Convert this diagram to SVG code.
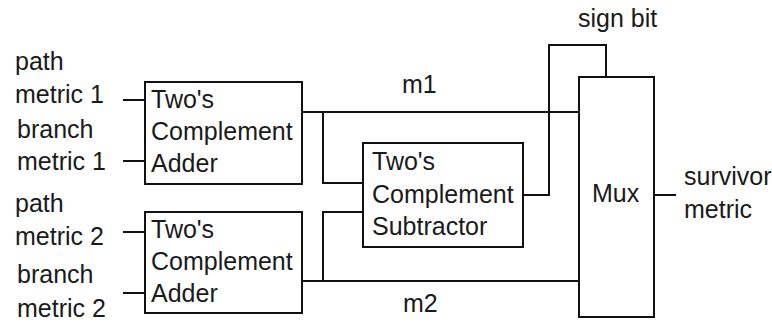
<svg xmlns="http://www.w3.org/2000/svg" width="772" height="326" viewBox="0 0 772 326">
<style>
.box{fill:none;stroke:#111;stroke-width:2}
.w{fill:none;stroke:#111;stroke-width:2}
text{font-family:"Liberation Sans",Arial,sans-serif;font-size:25px;fill:#1a1a1a}
</style>
<rect width="772" height="326" fill="#fff"/>
<g id="labels">
<text x="15" y="70">path</text>
<text x="15" y="103">metric 1</text>
<text x="17" y="138">branch</text>
<text x="17" y="170">metric 1</text>
<text x="15" y="212">path</text>
<text x="15" y="245">metric 2</text>
<text x="17" y="283">branch</text>
<text x="17" y="317">metric 2</text>
<text x="402" y="93">m1</text>
<text x="403" y="312">m2</text>
<text x="578" y="27">sign bit</text>
<text x="684" y="185">survivor</text>
<text x="684" y="218">metric</text>
</g>
<g id="adder1">
<rect class="box" x="145" y="82" width="157" height="102"/>
<text x="151" y="108">Two's</text>
<text x="151" y="140">Complement</text>
<text x="151" y="172">Adder</text>
</g>
<g id="adder2">
<rect class="box" x="145" y="212" width="157" height="101"/>
<text x="151" y="238">Two's</text>
<text x="151" y="270">Complement</text>
<text x="151" y="302">Adder</text>
</g>
<g id="subtractor">
<rect class="box" x="363" y="143" width="160" height="104"/>
<text x="372" y="170">Two's</text>
<text x="372" y="203">Complement</text>
<text x="372" y="235">Subtractor</text>
</g>
<g id="mux">
<rect class="box" x="579" y="77" width="75" height="240"/>
<text x="592" y="202">Mux</text>
</g>
<g id="connectors">
<path class="w" d="M123 100H145M123 161H145M123 232H145M123 293H145"/>
<path class="w" d="M302 112H579M323 112V183H363"/>
<path class="w" d="M302 281H579M323 281V212H363"/>
<path class="w" d="M523 195H549V45H606V77"/>
<path class="w" d="M654 195H676"/>
</g>
</svg>
